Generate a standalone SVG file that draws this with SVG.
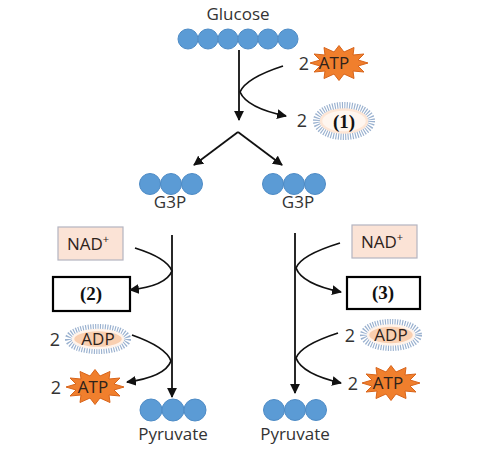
<svg xmlns="http://www.w3.org/2000/svg" width="488" height="454" viewBox="0 0 488 454">
<style>
.lbl{font-family:"Open Sans","Liberation Sans",sans-serif;font-size:17px;fill:#333;text-anchor:middle}
.num{font-family:"Open Sans","Liberation Sans",sans-serif;font-size:18px;fill:#333;text-anchor:middle}
.mol{font-family:"Open Sans","Liberation Sans",sans-serif;font-size:17px;fill:#2e221a;text-anchor:middle}
.blank{font-family:"Liberation Serif","Times New Roman",serif;font-weight:bold;font-size:19px;fill:#111;text-anchor:middle}
.c{fill:#5b9bd5;stroke:#4f8cc6;stroke-width:1}
.con{fill:none;stroke:#111;stroke-width:1.8}
.star{fill:#f07f2d;stroke:#d8641a;stroke-width:1}
.halo{fill:none;stroke:#9ab1cf;stroke-width:8;stroke-dasharray:1.1 1.3}
.ell{fill:#f9cfb0;stroke:#fff3ea;stroke-width:2.5}
.ell1{fill:#fff6ef;stroke:#fde6d6;stroke-width:2.5}
.nad{fill:#fbe3d6;stroke:#b4b4c0;stroke-width:1.2}
.box{fill:#fff;stroke:#000;stroke-width:2.2}
</style>
<defs>
<marker id="ah" viewBox="0 0 10 10" refX="9" refY="5" markerWidth="5.5" markerHeight="5.5" orient="auto" markerUnits="strokeWidth">
<path d="M0,0 L10,5 L0,10 z" fill="#111"/>
</marker>
<polygon id="star" points="29,0 19,3 25,9 14,8 15,15.5 5,11 0,17.5 -5,11 -15,15.5 -14,8 -25,9 -19,3 -29,0 -19,-3 -25,-9 -14,-8 -15,-15.5 -5,-11 0,-17.5 5,-11 15,-15.5 14,-8 25,-9 19,-3"/>
</defs>

<g id="glucose">
<text class="lbl" x="238" y="20">Glucose</text>
<circle class="c" cx="188" cy="39" r="10"/>
<circle class="c" cx="208" cy="39" r="10"/>
<circle class="c" cx="228" cy="39" r="10"/>
<circle class="c" cx="248" cy="39" r="10"/>
<circle class="c" cx="268" cy="39" r="10"/>
<circle class="c" cx="288" cy="39" r="10"/>
</g>

<g id="atp-in">
<text class="num" x="304" y="70">2</text>
<use href="#star" class="star" x="339" y="63"/>
<text class="mol" x="334" y="69">ATP</text>
</g>

<g id="blank1">
<text class="num" x="302" y="127">2</text>
<ellipse class="halo" cx="344" cy="121" rx="27" ry="15"/>
<ellipse class="ell1" cx="344" cy="121" rx="23" ry="11.5"/>
<text class="blank" x="344" y="128">(1)</text>
</g>

<g id="g3p-left">
<circle class="c" cx="150" cy="184" r="10.5"/>
<circle class="c" cx="171" cy="184" r="10.5"/>
<circle class="c" cx="192" cy="184" r="10.5"/>
<text class="lbl" x="170" y="208">G3P</text>
</g>

<g id="g3p-right">
<circle class="c" cx="273" cy="184" r="10.5"/>
<circle class="c" cx="294" cy="184" r="10.5"/>
<circle class="c" cx="315" cy="184" r="10.5"/>
<text class="lbl" x="298" y="208">G3P</text>
</g>

<g id="nad-left">
<rect class="nad" x="58" y="227" width="65" height="33"/>
<text class="mol" x="88" y="250">NAD<tspan font-size="11" dy="-7">+</tspan></text>
</g>

<g id="nad-right">
<rect class="nad" x="352" y="225" width="65" height="33"/>
<text class="mol" x="382" y="248">NAD<tspan font-size="11" dy="-7">+</tspan></text>
</g>

<g id="blank2">
<rect class="box" x="53" y="277" width="77" height="34"/>
<text class="blank" x="91" y="300">(2)</text>
</g>

<g id="blank3">
<rect class="box" x="347" y="277" width="73" height="32"/>
<text class="blank" x="383" y="299">(3)</text>
</g>

<g id="adp-left">
<text class="num" x="55" y="346">2</text>
<ellipse class="halo" cx="98" cy="339" rx="29" ry="11"/>
<ellipse class="ell" cx="98" cy="339" rx="25" ry="9"/>
<text class="mol" x="98" y="345">ADP</text>
</g>

<g id="atp-left">
<text class="num" x="56" y="394">2</text>
<use href="#star" class="star" x="95" y="387"/>
<text class="mol" x="93" y="393">ATP</text>
</g>

<g id="adp-right">
<text class="num" x="350" y="342">2</text>
<ellipse class="halo" cx="391" cy="335" rx="27" ry="12"/>
<ellipse class="ell" cx="391" cy="335" rx="23" ry="9.5"/>
<text class="mol" x="391" y="341">ADP</text>
</g>

<g id="atp-right">
<text class="num" x="353" y="390">2</text>
<use href="#star" class="star" x="391" y="383"/>
<text class="mol" x="388" y="389">ATP</text>
</g>

<g id="pyruvate-left">
<circle class="c" cx="151" cy="410" r="11"/>
<circle class="c" cx="173" cy="410" r="11"/>
<circle class="c" cx="195" cy="410" r="11"/>
<text class="lbl" x="173" y="440">Pyruvate</text>
</g>

<g id="pyruvate-right">
<circle class="c" cx="274" cy="410" r="10.5"/>
<circle class="c" cx="295" cy="410" r="10.5"/>
<circle class="c" cx="316" cy="410" r="10.5"/>
<text class="lbl" x="295" y="440">Pyruvate</text>
</g>

<g id="connectors">
<path class="con" d="M239,50 L239,120" marker-end="url(#ah)"/>
<path class="con" d="M283,66 Q246,78 240,92 Q247,108 286,116" marker-end="url(#ah)"/>
<path class="con" d="M238,132 L194,165" marker-end="url(#ah)"/>
<path class="con" d="M238,132 L282,165" marker-end="url(#ah)"/>
<path class="con" d="M172,235 L172,397" marker-end="url(#ah)"/>
<path class="con" d="M135,248 Q167,258 172,271 Q166,286 130,290" marker-end="url(#ah)"/>
<path class="con" d="M132,335 Q166,347 171,361 Q165,377 127,382" marker-end="url(#ah)"/>
<path class="con" d="M295,233 L295,393" marker-end="url(#ah)"/>
<path class="con" d="M340,243 Q301,255 296,268 Q302,284 341,292" marker-end="url(#ah)"/>
<path class="con" d="M338,333 Q301,345 296,358 Q302,374 341,383" marker-end="url(#ah)"/>
</g>
</svg>
